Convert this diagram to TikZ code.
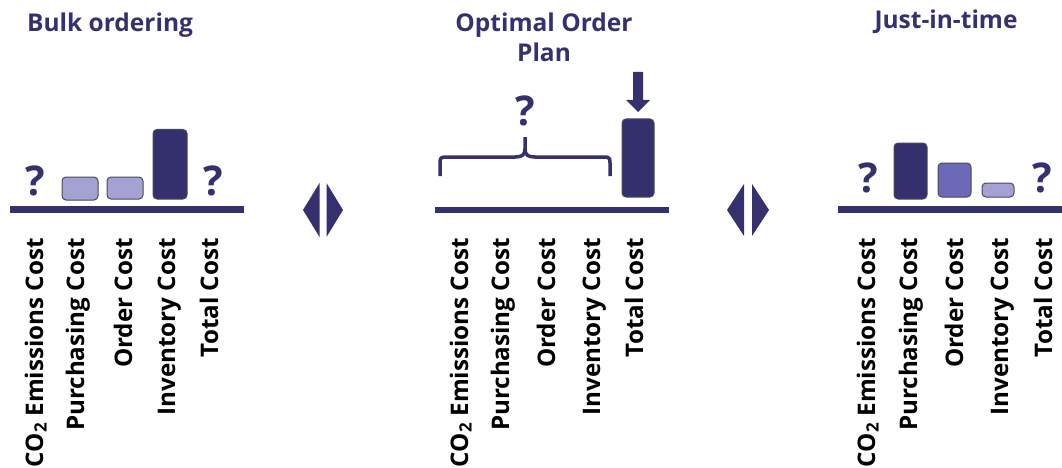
\documentclass[tikz,border=0pt]{standalone}
\usepackage{fontspec}
\setmainfont{Open Sans}
\begin{document}
\begin{tikzpicture}[x=1pt,y=-1pt,
  title/.style={font=\fontsize{24.5}{30}\selectfont\bfseries,text=navyc,inner sep=0pt,align=center},
  lbl/.style={font=\fontsize{24.2}{28}\selectfont\bfseries,text=black,inner sep=0pt,rotate=90,anchor=base east},
  qm/.style={font=\fontsize{41}{41}\selectfont\bfseries,text=navyc,inner sep=0pt,anchor=base},
  axis/.style={line width=6.5pt,draw=navyc},
  bar/.style={draw=edgec,line width=1pt,rounded corners=4pt},
  tri/.style={fill=navyc},
  brace/.style={draw=navyc,line width=3.5pt,line join=round}
]
\definecolor{navyc}{HTML}{35316F}
\definecolor{darkc}{HTML}{34306D}
\definecolor{midc}{HTML}{6C69B9}
\definecolor{lightc}{HTML}{A4A1D3}
\definecolor{edgec}{HTML}{4A4858}
\useasboundingbox (0,0) rectangle (1062,468);

% titles
\node[title,anchor=base] (t1) at (110,32) {Bulk ordering};
\node[title,anchor=base] (t2) at (544,32) {Optimal Order};
\node[title,anchor=base] (t2b) at (544,62) {Plan};
\node[title,anchor=base] (t3) at (946,29) {Just-in-time};

% axes
\draw[axis] (10,209.5) coordinate (a1) -- (244,209.5) coordinate (a1e);
\draw[axis] (435,210) coordinate (a2) -- (669,210) coordinate (a2e);
\draw[axis] (838,209.5) coordinate (a3) -- (1062,209.5) coordinate (a3e);

% left panel
\node[qm] (q1) at (35,195) {?};
\draw[bar,fill=lightc] (62,177) rectangle (98,200);
\draw[bar,fill=lightc] (107,177) rectangle (143,199);
\draw[bar,fill=darkc] (153,129.5) rectangle (187,199);
\node[qm] (q2) at (213,195) {?};

% middle panel
\draw[brace] (440,176) -- (440,163) .. controls (440,158) and (441,157) .. (446,157)
  -- (515,157) .. controls (522,157) and (525,155) .. (525,149) -- (525,137);
\draw[brace] (610,176) -- (610,163) .. controls (610,158) and (609,157) .. (604,157)
  -- (535,157) .. controls (528,157) and (525,155) .. (525,149);
\node[qm] (q3) at (525,125) {?};
\draw[bar,fill=darkc] (622,119) rectangle (654,197);
\fill[navyc] (633,72) -- (643,72) -- (643,100) -- (650,100) -- (638,112) -- (626,100) -- (633,100) -- cycle;

% right panel
\node[qm] (q4) at (868,192) {?};
\draw[bar,fill=darkc] (894,143) rectangle (927,199);
\draw[bar,fill=midc] (938,163) rectangle (971,197);
\draw[bar,fill=lightc] (982,183) rectangle (1014,197);
\node[qm] (q5) at (1042,192) {?};

% double arrows
\fill[tri] (319.5,183) -- (303,210) -- (319.5,237) -- cycle;
\fill[tri] (326.5,183) -- (343,210) -- (326.5,237) -- cycle;
\fill[tri] (744,184) -- (727,210) -- (744,236) -- cycle;
\fill[tri] (752,184) -- (769,210) -- (752,236) -- cycle;

% labels
\foreach \p/\xa/\xb/\xc/\xd/\xe in {L/43/84/132/175/218, M/468/509/555/600/643, R/875/917/963/1008/1052}{
  \node[lbl] (co\p) at (\xa,238) {CO\textsubscript{2} Emissions Cost};
  \node[lbl] (pu\p) at (\xb,238) {Purchasing Cost};
  \node[lbl] (or\p) at (\xc,238) {Order Cost};
  \node[lbl] (in\p) at (\xd,238) {Inventory Cost};
  \node[lbl] (to\p) at (\xe,238) {Total Cost};
}
\end{tikzpicture}
\end{document}
